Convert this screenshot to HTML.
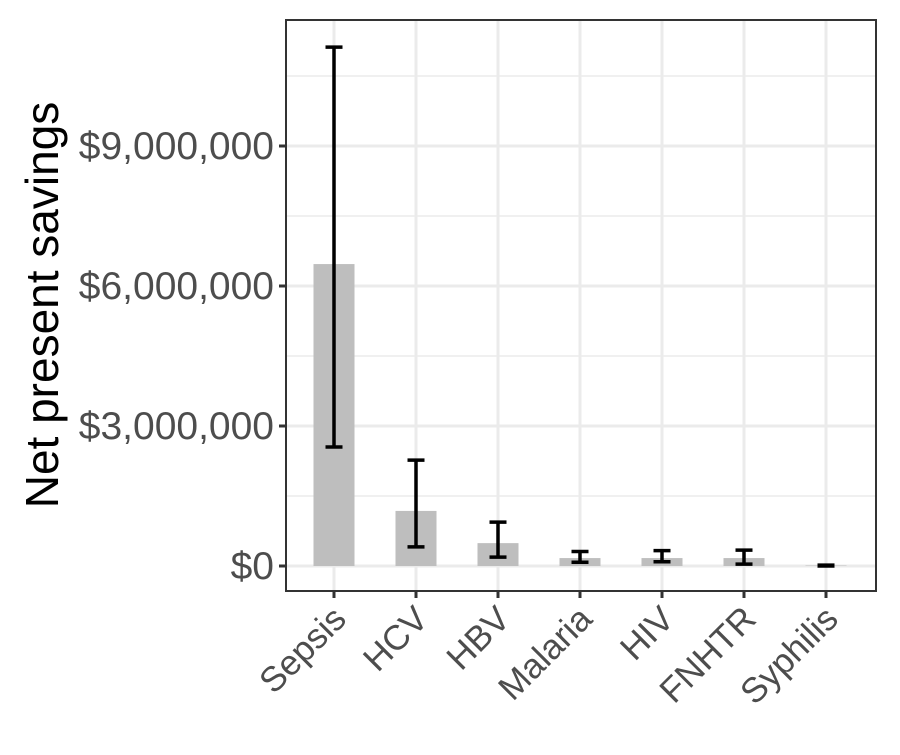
<!DOCTYPE html>
<html><head><meta charset="utf-8"><style>
body{margin:0;background:#fff}
text{font-family:"Liberation Sans",Arial,sans-serif}
</style></head><body>
<svg id="chart" width="900" height="750" xmlns="http://www.w3.org/2000/svg"></svg>
<script>
const categories=["Sepsis","HCV","HBV","Malaria","HIV","FNHTR","Syphilis"];
const values=[6470000,1180000,490000,170000,170000,170000,10000];
const lower=[2550000,410000,190000,80000,90000,40000,0];
const upper=[11120000,2270000,940000,310000,330000,340000,20000];
const yTicks=[0,3000000,6000000,9000000];
const yTickLabels=["$0","$3,000,000","$6,000,000","$9,000,000"];
const NS="http://www.w3.org/2000/svg";
const svg=document.getElementById('chart');
const L=286,R=876,T=20,B=591;
const y=v=>566-v/3000000*140;
const x=i=>334+i*82;
function el(t,a,p){const e=document.createElementNS(NS,t);for(const k in a)e.setAttribute(k,a[k]);(p||svg).appendChild(e);return e;}
const panel=el('rect',{x:L,y:T,width:R-L,height:B-T,fill:'#fff'});


for(let k=0;k<yTicks.length;k++){
  const m=el('line',{x1:L,x2:R,y1:y(yTicks[k]+1500000),y2:y(yTicks[k]+1500000),stroke:'#ebebeb','stroke-width':1.5});
  
  
  const g=el('line',{x1:L,x2:R,y1:y(yTicks[k]),y2:y(yTicks[k]),stroke:'#ebebeb','stroke-width':3});
  
  
}
categories.forEach((c,i)=>{
  const g=el('line',{x1:x(i),x2:x(i),y1:T,y2:B,stroke:'#ebebeb','stroke-width':3});
  
  
});
categories.forEach((c,i)=>{
  const b=el('rect',{x:x(i)-20.5,y:y(values[i]),width:41,height:y(0)-y(values[i]),fill:'#bebebe'});
  
  
  const g=el('g',{stroke:'#000','stroke-width':3.5,fill:'none'});
  
  
  el('line',{x1:x(i),x2:x(i),y1:y(upper[i]),y2:y(lower[i])},g);
  el('line',{x1:x(i)-8.5,x2:x(i)+8.5,y1:y(upper[i]),y2:y(upper[i])},g);
  el('line',{x1:x(i)-8.5,x2:x(i)+8.5,y1:y(lower[i]),y2:y(lower[i])},g);
  const t=el('line',{x1:x(i),x2:x(i),y1:B,y2:B+7,stroke:'#333','stroke-width':3});
  
  
  const ax=x(i)+14, ay=B+30;
  const lb=el('text',{x:ax,y:ay,'font-size':35,fill:'#4d4d4d','text-anchor':'end',transform:`rotate(-45 ${ax} ${ay})`});
  lb.textContent=c;
  
  
});
yTicks.forEach((v,k)=>{
  const t=el('line',{x1:L-7,x2:L,y1:y(v),y2:y(v),stroke:'#333','stroke-width':3});
  
  
  const lb=el('text',{x:L-12,y:y(v)+13,'font-size':39,fill:'#4d4d4d','text-anchor':'end'});
  lb.textContent=yTickLabels[k];
  
  
});
const bd=el('rect',{x:L,y:T,width:R-L,height:B-T,fill:'none',stroke:'#333','stroke-width':2});


const yt=el('text',{x:58,y:305,'font-size':46,fill:'#000','text-anchor':'middle',transform:'rotate(-90 58 305)'});
yt.textContent='Net present savings';


</script>
</body></html>
